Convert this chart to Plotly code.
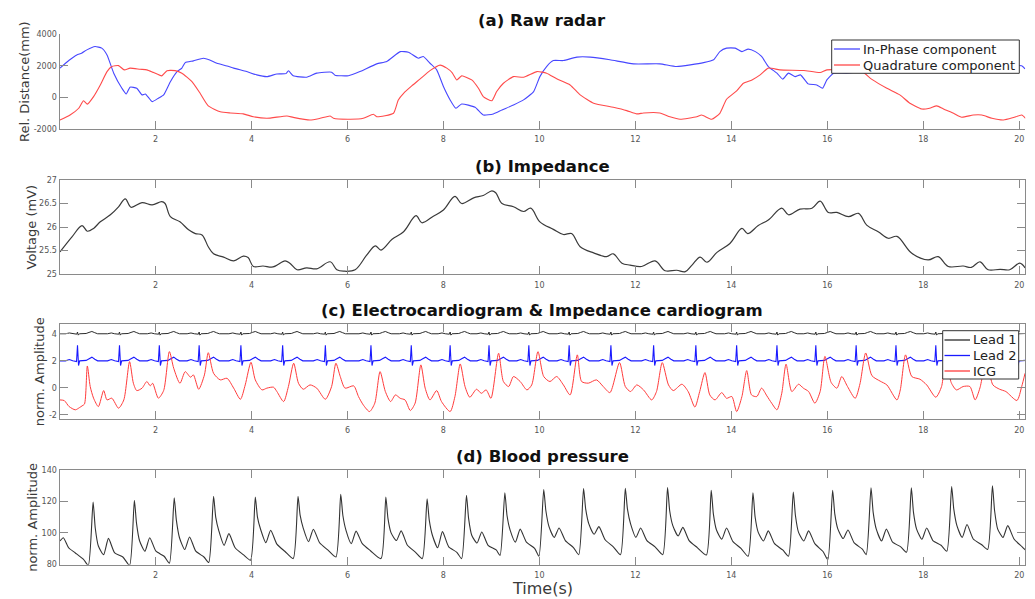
import plotly.graph_objects as go

W, H = 1035, 599

# ---------------- data ----------------
X_TICKS = [2, 4, 6, 8, 10, 12, 14, 16, 18, 20]

# (a) Raw radar
IP_T = [0.01, 0.20, 0.36, 0.46, 0.57, 0.74, 0.88, 0.99, 1.13, 1.30, 1.39, 1.47, 1.61, 1.72, 1.79,
        1.93, 2.06, 2.17, 2.31, 2.45, 2.55, 2.62, 2.79, 3.00, 3.13, 3.28, 3.49, 3.63, 3.90, 4.11,
        4.32, 4.53, 4.72, 4.77, 4.87, 5.15, 5.36, 5.67, 5.74, 6.02, 6.26, 6.61, 6.82, 7.10, 7.27,
        7.48, 7.58, 7.72, 7.86, 8.00, 8.14, 8.26, 8.38, 8.66, 8.83, 9.04, 9.22, 9.46, 9.67, 9.88,
        10.01, 10.15, 10.29, 10.50, 10.78, 11.06, 11.47, 11.96, 12.51, 12.86, 13.42, 13.63, 13.76,
        13.90, 14.08, 14.22, 14.35, 14.50, 14.63, 14.77, 14.95, 15.07, 15.19, 15.33, 15.44, 15.60,
        15.78, 15.90, 15.99, 16.13, 16.40, 16.80, 17.20, 17.60, 18.00, 18.50, 19.00, 19.50, 20.05,
        20.12]
IP_V = [1850, 2350, 2690, 2800, 3010, 3220, 3120, 2690, 1530, 570, 210, 640, 570, 150, 210,
        -280, -60, 150, 990, 1630, 1850, 2200, 2310, 2480, 2370, 2160, 1990, 1850, 1630, 1420,
        1310, 1480, 1500, 1680, 1370, 1270, 1530, 1590, 1400, 1370, 1630, 2120, 2270, 2900, 2860,
        2480, 2590, 2160, 1740, 680, -170, -700, -430, -640, -1130, -1060, -810, -490, -170, 360,
        1310, 1950, 2330, 2330, 2550, 2550, 2380, 2120, 2120, 1950, 2200, 2380, 2900,
        3120, 3120, 2900, 3060, 2900, 2590, 1950, 1530, 1150, 1530, 1310, 1420, 850,
        780, 570, 1100, 1530, 1530, 1700, 2000, 2000, 2050, 2000, 2000, 2050, 2000,
        1800]

Q_T = [0.01, 0.22, 0.40, 0.50, 0.58, 0.71, 0.85, 0.99, 1.09, 1.23, 1.35, 1.47, 1.68, 1.82, 1.96,
       2.13, 2.24, 2.41, 2.55, 2.76, 2.93, 3.10, 3.35, 3.56, 3.83, 4.04, 4.32, 4.74, 4.87, 5.22,
       5.43, 5.64, 5.71, 6.06, 6.33, 6.54, 6.61, 6.96, 7.06, 7.17, 7.34, 7.51, 7.72, 7.93, 8.07,
       8.18, 8.28, 8.38, 8.59, 8.73, 8.83, 9.01, 9.11, 9.25, 9.46, 9.67, 9.95, 10.15, 10.36, 10.64,
       10.85, 11.13, 11.54, 11.82, 12.03, 12.17, 12.51, 12.72, 12.93, 13.28, 13.38, 13.59, 13.76,
       13.90, 14.11, 14.25, 14.43, 14.60, 14.77, 15.01, 15.51, 15.85, 15.99, 16.72, 16.92, 17.24,
       17.51, 17.72, 17.97, 18.13, 18.28, 18.42, 18.63, 18.80, 19.04, 19.22, 19.43, 19.67, 19.88,
       20.05, 20.13]
Q_V = [-1450, -1130, -700, -220, -440, 40, 780, 1630, 1950, 2010, 1740, 1850, 1780, 1740, 1570,
       1360, 1690, 1690, 1530, 990, 250, -550, -920, -1000, -1060, -1240, -1340, -1190, -1280, -1450,
       -1340, -1190, -1340, -1400, -1340, -1080, -1240, -1020, -170, 250, 720, 1150, 1690, 2040, 1850,
       1570, 1100, 1360, 1100, 570, 40, -220, 360, 890, 1310, 1270, 1630, 1530, 1170, 780,
       150, -380, -640, -850, -1060, -1000, -1000, -1240, -1400, -1240, -1130, -1400, -1020,
       -130, 400, 890, 1100, 1420, 1850, 1740, 1700, 1570, 1740, 1630, 1150, 570,
       150, -380, -750, -700, -550, -750, -1020, -1270, -1130, -1130, -1340, -1450, -1290,
       -1130, -1340]

# (b) Impedance
IMP_T = [0.01, 0.26, 0.47, 0.58, 0.71, 0.85, 1.06, 1.23, 1.37, 1.49, 1.72, 1.93, 2.13, 2.20, 2.31,
         2.51, 2.69, 2.83, 2.97, 3.10, 3.21, 3.42, 3.63, 3.83, 3.93, 4.04, 4.24, 4.45, 4.70, 4.80,
         4.95, 5.15, 5.36, 5.64, 5.78, 5.92, 6.16, 6.40, 6.58, 6.70, 6.93, 7.17, 7.43, 7.55, 7.79,
         8.00, 8.24, 8.38, 8.63, 8.83, 9.01, 9.09, 9.22, 9.46, 9.67, 9.82, 10.01, 10.29, 10.50,
         10.67, 10.85, 11.13, 11.40, 11.54, 11.72, 11.89, 12.13, 12.41, 12.62, 12.86, 13.04, 13.18,
         13.35, 13.49, 13.70, 13.97, 14.22, 14.34, 14.56, 14.77, 15.05, 15.19, 15.43, 15.68, 15.85,
         16.02, 16.20, 16.44, 16.65, 16.82, 17.06, 17.27, 17.45, 17.76, 18.10, 18.31, 18.52, 18.83,
         19.00, 19.18, 19.35, 19.60, 19.80, 20.01, 20.12]
IMP_V = [25.47, 25.79, 26.03, 25.91, 25.97, 26.11, 26.26, 26.43, 26.60, 26.42, 26.52, 26.47, 26.54, 26.50, 26.22,
         26.11, 25.94, 25.86, 25.83, 25.58, 25.43, 25.36, 25.28, 25.38, 25.35, 25.16, 25.17, 25.15, 25.28, 25.23,
         25.09, 25.13, 25.11, 25.26, 25.09, 25.06, 25.09, 25.40, 25.60, 25.51, 25.74, 25.90, 26.24, 26.09, 26.23,
         26.36, 26.65, 26.50, 26.62, 26.67, 26.77, 26.73, 26.50, 26.43, 26.33, 26.40, 26.11, 25.95, 25.84,
         25.86, 25.58, 25.45, 25.37, 25.43, 25.23, 25.19, 25.16, 25.28, 25.07, 25.08, 25.05, 25.19,
         25.36, 25.25, 25.46, 25.65, 25.97, 25.86, 26.03, 26.15, 26.40, 26.26, 26.38, 26.40, 26.55,
         26.31, 26.31, 26.22, 26.29, 26.04, 25.90, 25.76, 25.80, 25.44, 25.30, 25.37, 25.16, 25.17,
         25.14, 25.26, 25.09, 25.10, 25.09, 25.23, 25.13]

# (c) ECG R-peak times and waveform shapes around each R peak
R_TIMES = [0.375, 1.25, 2.08, 2.91, 3.78, 4.65, 5.54, 6.49, 7.33, 8.14, 8.95, 9.78, 10.62,
           11.49, 12.38, 13.26, 14.11, 14.95, 15.76, 16.60, 17.43, 18.26, 19.10, 19.95]
LEAD1_DT = [-0.25, -0.17, -0.10, -0.015, 0.0, 0.015, 0.04, 0.18, 0.24, 0.30, 0.36, 0.42]
LEAD1_V = [4.00, 4.06, 4.00, 3.97, 4.13, 3.90, 4.00, 4.02, 4.10, 4.17, 4.08, 4.00]
LEAD2_DT = [-0.25, -0.17, -0.10, -0.02, 0.0, 0.022, 0.045, 0.18, 0.24, 0.30, 0.36, 0.42]
LEAD2_V = [2.00, 2.10, 2.00, 1.95, 3.15, 1.65, 2.00, 2.03, 2.15, 2.27, 2.12, 2.00]
LEAD1_BASE = 4.0
LEAD2_BASE = 2.0

ICG_T = [0.01, 0.10, 0.20, 0.33, 0.42, 0.47, 0.52, 0.58, 0.64, 0.71, 0.81, 0.92, 0.99, 1.09, 1.23,
         1.34, 1.46, 1.54, 1.61, 1.72, 1.82, 1.89, 1.94, 2.06, 2.17, 2.29, 2.38, 2.51, 2.62, 2.73,
         2.79, 2.90, 3.02, 3.10, 3.21, 3.35, 3.49, 3.63, 3.77, 3.87, 3.99, 4.08, 4.22, 4.32, 4.46,
         4.53, 4.67, 4.77, 4.88, 4.98, 5.08, 5.22, 5.36, 5.54, 5.67, 5.76, 5.85, 5.95, 6.13, 6.23,
         6.33, 6.46, 6.57, 6.68, 6.79, 6.90, 7.00, 7.10, 7.20, 7.31, 7.41, 7.53, 7.62, 7.72, 7.86,
         7.96, 8.14, 8.24, 8.35, 8.45, 8.55, 8.69, 8.79, 8.89, 8.99, 9.15, 9.25, 9.36, 9.46, 9.60,
         9.74, 9.84, 9.97, 10.09, 10.22, 10.36, 10.50, 10.64, 10.79, 10.88, 11.02, 11.19, 11.33,
         11.47, 11.67, 11.79, 11.90, 12.03, 12.17, 12.34, 12.44, 12.56, 12.69, 12.79, 12.97, 13.10,
         13.24, 13.34, 13.45, 13.55, 13.66, 13.80, 13.90, 14.01, 14.11, 14.22, 14.32, 14.42, 14.53,
         14.63, 14.74, 14.84, 14.95, 15.05, 15.14, 15.26, 15.40, 15.50, 15.61, 15.74, 15.85, 15.95,
         16.08, 16.20, 16.30, 16.42, 16.58, 16.68, 16.80, 16.93, 17.10, 17.24, 17.45, 17.52, 17.63,
         17.76, 17.93, 18.07, 18.26, 18.38, 18.47, 18.58, 18.69, 18.83, 18.97, 19.08, 19.18, 19.31,
         19.45, 19.59, 19.72, 19.95, 20.05, 20.12]
ICG_V = [-0.89, -0.94, -1.38, -1.62, -1.45, -1.33, -1.20, 1.62, 0.10, -0.76, -1.38, -0.20, -0.89, -0.76, -1.50,
         -0.89, 1.94, 0.34, -0.20, -0.02, 0.47, 0.15, 0.34, -0.76, -0.20, 2.68, 1.45, 0.34, 1.20, 0.79,
         0.96, -0.10, 0.96, 2.60, 1.08, 0.59, 0.71, -0.02, -0.84, 0.22, 1.89, 0.59, -0.15, -0.02, 0.05,
         -0.27, -1.01, 0.10, 1.82, 0.34, -0.10, 0.22, -0.02, -0.84, 0.10, 1.82, 0.84, -0.02, 0.15, -0.64,
         -1.26, -1.75, -1.13, 1.20, -0.27, -1.01, -0.52, -0.77, -0.89, -1.67, -1.13, 1.70, -0.02, -0.89, -0.20,
         -1.01, -1.75, -0.64, 1.77, 0.10, -0.69, -0.10, -0.40, -0.15, -0.77, 2.56, 0.47, 0.10, 0.84, 0.47,
         -0.15, 0.22, 2.68, 0.84, 0.47, 0.84, 0.22, -0.52, 2.44, 0.47, 0.35, 0.59, 0.10,
         -0.35, 1.87, 0.10, -0.27, 0.22, -0.15, -0.89, -0.27, 1.87, 0.22, -0.20, 0.27, -0.27,
         -1.42, -0.27, 1.13, -0.52, -0.89, -0.35, -0.77, -0.64, -1.75, -0.64, 1.28, -0.52, -0.64,
         -0.02, -0.59, -1.13, -1.62, -0.40, 1.75, -0.27, 0.27, -0.02, -0.27, -1.13, -0.27, 2.33,
         0.40, -0.02, 0.84, 0.10, -0.77, 0.30, 2.58, 0.90, 0.50, 0.22, -0.89, -0.15, 2.44,
         0.84, 0.64, 0.22, -0.69, 0.10, 2.40, 0.40, -0.15, 0.10, 0.10, -0.89, 0.00, 2.00,
         0.22, -0.10, -0.27, -0.93, 0.10, 1.08]

# (d) Blood pressure: per-beat systolic peak times and characteristic levels
BP_PEAK_T = [0.70, 1.56, 2.39, 3.21, 4.08, 4.97, 5.86, 6.80, 7.66, 8.48, 9.28, 10.09, 10.92, 11.79,
             12.67, 13.58, 14.45, 15.29, 16.11, 16.91, 17.75, 18.59, 19.44]
BP_FOOT = [79.2, 79.2, 80.6, 81.0, 82.5, 83.5, 84.5, 83.5, 83.5, 83.5, 85.5, 85.0, 86.0, 86.0,
           86.0, 85.8, 85.0, 85.0, 82.8, 86.0, 87.5, 88.2, 89.3]
BP_PEAK = [119.5, 120.6, 122.3, 123.2, 122.8, 123.2, 124.5, 122.7, 121.6, 123.8, 125.5, 127.5, 128.2,
           128.4, 128.8, 127.1, 125.5, 126.0, 127.1, 128.6, 128.6, 129.5, 129.9]
BP_FALL = [103.0, 106.0, 108.0, 110.0, 110.0, 111.0, 111.0, 109.0, 108.0, 109.0, 111.0, 114.0, 115.0,
           115.0, 114.0, 112.0, 110.0, 111.0, 112.0, 113.0, 113.0, 115.0, 114.0]
BP_SHOULDER = [91.5, 94.7, 96.8, 101.2, 102.2, 102.8, 101.5, 99.9, 98.4, 98.4, 101.7, 103.9, 105.6,
               105.6, 104.5, 101.7, 100.2, 100.2, 102.3, 102.3, 102.3, 104.5, 102.3]
BP_NOTCH = [86.0, 88.2, 89.3, 91.9, 93.6, 94.2, 93.0, 95.0, 90.4, 93.4, 94.0, 97.0, 99.0, 97.0,
            98.0, 95.9, 94.7, 94.7, 96.3, 94.7, 95.8, 97.0, 97.0]
BP_DICROTIC = [96.4, 96.8, 97.3, 99.4, 101.6, 102.2, 101.0, 101.2, 100.7, 100.5, 102.3, 103.0, 103.9,
               103.0, 103.4, 103.0, 101.2, 101.2, 101.7, 102.3, 103.0, 105.2, 104.5]
BP_POST = [87.1, 88.2, 88.2, 90.4, 92.7, 93.6, 93.0, 92.0, 91.0, 92.0, 94.0, 95.0, 95.5, 95.0,
           95.0, 94.5, 93.0, 93.0, 93.5, 94.0, 95.0, 96.0, 96.0]
BP_LATE = [84.5, 85.0, 84.5, 86.0, 88.0, 89.0, 88.5, 87.5, 87.5, 89.0, 90.0, 90.5, 91.0, 91.0,
           90.5, 90.0, 89.0, 88.0, 89.5, 91.0, 92.0, 92.5, 91.0]
BP_OFFSETS = [-0.10, 0.0, 0.045, 0.11, 0.22, 0.32, 0.45, 0.62]
BP_START_T = [0.01, 0.08, 0.19, 0.33, 0.50]
BP_START_V = [94.7, 96.8, 90.4, 87.1, 83.0]
BP_END_T = [20.125]
BP_END_V = [89.0]

# ---------------- build series ----------------
def beat_series(r_times, dts, vals, base):
    t, v = [0.0], [base]
    for r in r_times:
        for d, val in zip(dts, vals):
            t.append(round(r + d, 4))
            v.append(val)
    return t, v

lead1_t, lead1_v = beat_series(R_TIMES, LEAD1_DT, LEAD1_V, LEAD1_BASE)
lead2_t, lead2_v = beat_series(R_TIMES, LEAD2_DT, LEAD2_V, LEAD2_BASE)

bp_t, bp_v = list(BP_START_T), list(BP_START_V)
levels = [BP_FOOT, BP_PEAK, BP_FALL, BP_SHOULDER, BP_NOTCH, BP_DICROTIC, BP_POST, BP_LATE]
for i, tp in enumerate(BP_PEAK_T):
    for off, arr in zip(BP_OFFSETS, levels):
        bp_t.append(round(tp + off, 4))
        bp_v.append(arr[i])
bp_t += BP_END_T
bp_v += BP_END_V

# ---------------- styling / layout ----------------
BLUE_A = "#4747ff"
RED_A = "#ff4a4a"
BLUE_C = "#1a1aff"
RED_C = "#ff3b3b"
BLACK = "#2b2b2b"
AXIS_COL = "#8a8a8a"
TICK_FONT = dict(family="DejaVu Sans", size=8, color="#555555")

PLOT_L, PLOT_R = 59.5, 1025.3
PANELS = [(34.3, 128.7), (180.0, 274.0), (324.3, 419.0), (470.0, 564.7)]
X_RANGE = [0, 20.125]

def fx(x):
    return x / W

def fy(y):
    return 1 - y / H

fig = go.Figure()

def add(t, v, color, width, idx, shape="linear", smoothing=1.0):
    s = "" if idx == 1 else str(idx)
    line = dict(color=color, width=width, shape=shape)
    if shape == "spline":
        line["smoothing"] = smoothing
    fig.add_trace(go.Scatter(x=t, y=v, mode="lines", line=line,
                             xaxis="x" + s, yaxis="y" + s,
                             showlegend=False, hoverinfo="skip"))

add(IP_T, IP_V, BLUE_A, 1.1, 1, shape="spline", smoothing=0.5)
add(Q_T, Q_V, RED_A, 1.1, 1, shape="spline", smoothing=0.5)
add(IMP_T, IMP_V, "#3a3a3a", 1.2, 2, shape="spline")
add(lead1_t, lead1_v, BLACK, 1.0, 3)
add(lead2_t, lead2_v, BLUE_C, 1.1, 3)
add(ICG_T, ICG_V, RED_C, 1.0, 3, shape="spline", smoothing=0.7)
add(bp_t, bp_v, "#333333", 1.1, 4, shape="spline", smoothing=0.6)

Y_SPECS = [
    dict(range=[-2000, 4000], tickvals=[-2000, 0, 2000, 4000], ticktext=["-2000", "0", "2000", "4000"]),
    dict(range=[25, 27], tickvals=[25, 25.5, 26, 26.5, 27], ticktext=["25", "25.5", "26", "26.5", "27"]),
    dict(range=[-2.3, 4.7], tickvals=[-2, 0, 2, 4], ticktext=["-2", "0", "2", "4"]),
    dict(range=[79.6, 140], tickvals=[80, 100, 120, 140], ticktext=["80", "100", "120", "140"]),
]

layout = dict(width=W, height=H, margin=dict(l=0, r=0, t=0, b=0),
              paper_bgcolor="white", plot_bgcolor="white", showlegend=False)

for i, ((top, bot), ys) in enumerate(zip(PANELS, Y_SPECS), start=1):
    s = "" if i == 1 else str(i)
    mirror = False if i == 1 else "ticks"
    layout["xaxis" + s] = dict(
        domain=[fx(PLOT_L), fx(PLOT_R)], anchor="y" + s, range=X_RANGE,
        tickvals=X_TICKS, ticktext=[str(v) for v in X_TICKS],
        ticks="inside", ticklen=8, tickcolor=AXIS_COL, tickwidth=1,
        showline=True, linecolor=AXIS_COL, linewidth=1, mirror=mirror,
        showgrid=False, zeroline=False, tickfont=TICK_FONT, automargin=False,
        ticklabelstandoff=3)
    layout["yaxis" + s] = dict(
        domain=[fy(bot), fy(top)], anchor="x" + s, range=ys["range"],
        tickvals=ys["tickvals"], ticktext=ys["ticktext"],
        ticks="inside", ticklen=8, tickcolor=AXIS_COL, tickwidth=1,
        showline=True, linecolor=AXIS_COL, linewidth=1, mirror=mirror,
        showgrid=False, zeroline=False, tickfont=TICK_FONT, automargin=False)

fig.update_layout(**layout)

annotations = []
shapes = []

TITLES = ["(a) Raw radar", "(b) Impedance",
          "(c) Electrocardiogram & Impedance cardiogram", "(d) Blood pressure"]
cx = (PLOT_L + PLOT_R) / 2
for (top, bot), title in zip(PANELS, TITLES):
    annotations.append(dict(text="<b>" + title + "</b>", x=fx(cx), y=fy(top - 13.5),
                            xref="paper", yref="paper", xanchor="center", yanchor="middle",
                            showarrow=False,
                            font=dict(family="DejaVu Sans", size=16.5, color="#111111")))

Y_TITLES = ["Rel. Distance(mm)", "Voltage (mV)", "norm. Amplitude", "norm. Amplitude"]
Y_TITLE_X = [24.5, 30.5, 39.5, 32.5]
for (top, bot), title, xpx in zip(PANELS, Y_TITLES, Y_TITLE_X):
    annotations.append(dict(text=title, x=fx(xpx), y=fy((top + bot) / 2),
                            xref="paper", yref="paper", xanchor="center", yanchor="middle",
                            textangle=-90, showarrow=False,
                            font=dict(family="DejaVu Sans", size=13, color="#3a3a3a")))

annotations.append(dict(text="Time(s)", x=fx(cx), y=fy(588), xref="paper", yref="paper",
                        xanchor="center", yanchor="middle", showarrow=False,
                        font=dict(family="DejaVu Sans", size=16, color="#3a3a3a")))

# manual legends
def legend(box, rows, line_x0, line_x1, text_x):
    x0, y0, x1, y1 = box
    shapes.append(dict(type="rect", xref="paper", yref="paper",
                       x0=fx(x0), x1=fx(x1), y0=fy(y1), y1=fy(y0),
                       line=dict(color="#333333", width=1), fillcolor="white", layer="above"))
    for (label, color, ypx) in rows:
        shapes.append(dict(type="line", xref="paper", yref="paper",
                           x0=fx(line_x0), x1=fx(line_x1), y0=fy(ypx), y1=fy(ypx),
                           line=dict(color=color, width=1.3), layer="above"))
        annotations.append(dict(text=label, x=fx(text_x), y=fy(ypx), xref="paper", yref="paper",
                                xanchor="left", yanchor="middle", showarrow=False,
                                font=dict(family="DejaVu Sans", size=13, color="#222222")))

legend((831.7, 40.0, 1019.3, 73.3),
       [("In-Phase component", BLUE_A, 49.0), ("Quadrature component", RED_A, 65.0)],
       834, 860, 861)
legend((942.7, 330.7, 1018.7, 379.0),
       [("Lead 1", BLACK, 340.0), ("Lead 2", BLUE_C, 355.5), ("ICG", RED_C, 371.0)],
       944.5, 970, 971)

fig.update_layout(annotations=annotations, shapes=shapes)
fig.write_html("out.html")
